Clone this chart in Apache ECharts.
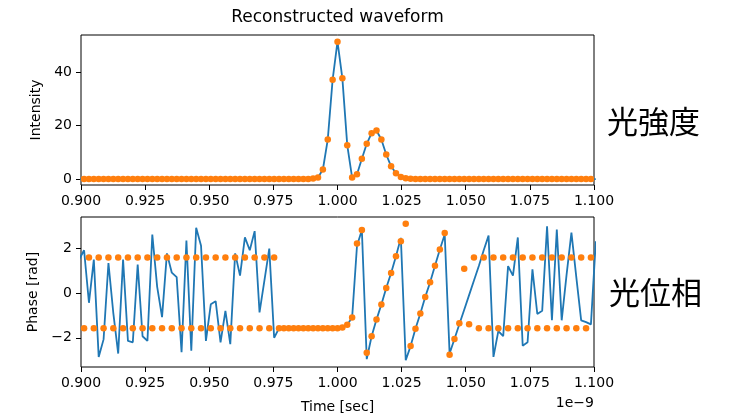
<!DOCTYPE html>
<html>
<head>
<meta charset="utf-8">
<script src="https://cdn.jsdelivr.net/npm/echarts@6/dist/echarts.min.js"></script>
<style>
  html, body { margin: 0; padding: 0; background: #fff; }
  #chart { width: 754px; height: 417px; }
</style>
</head>
<body>
<div id="chart"></div>
<script>
// time grid (units of 1e-9 s), one sample every 1.9 ps
var T_START = 0.8993;
var DT = 0.0019;
var N = 107;
var timeNs = Array.from({ length: N }, function (_, i) { return +(T_START + i * DT).toFixed(4); });

// tick labels
var xTicks = [0.900, 0.925, 0.950, 0.975, 1.000, 1.025, 1.050, 1.075, 1.100];
var intensityTicks = [0, 20, 40];
var phaseTicks = [-2, 0, 2];

// intensity (same samples for line and dots)
var intensity = [
  0, 0, 0, 0, 0, 0, 0, 0, 0, 0, 0, 0, 0, 0, 0, 0, 0, 0, 0, 0,
  0, 0, 0, 0, 0, 0, 0, 0, 0, 0, 0, 0, 0, 0, 0, 0, 0, 0, 0, 0,
  0, 0, 0, 0, 0, 0, 0, 0,
  0.2, 0.6, 3.6, 14.8, 37.2, 51.4, 37.7, 12.7, 0.6, 1.8,
  7.6, 13.2, 17.2, 18.2, 14.8, 9.2, 4.8, 2.2, 0.8, 0.3, 0.1,
  0, 0, 0, 0, 0, 0, 0, 0, 0, 0, 0, 0, 0, 0, 0, 0, 0, 0, 0, 0,
  0, 0, 0, 0, 0, 0, 0, 0, 0, 0, 0, 0, 0, 0, 0, 0, 0, 0
];

// reconstructed phase (blue line)
var phaseLine = [
  1.5, 1.9, -0.44, 1.48, -2.85, -2.07, 1.33, -0.9, -2.7, 1.48,
  -2.14, -2.2, 1.26, -1.93, -2.14, 2.6, 0.27, -1.08, 1.76, 0.9,
  0.7, -2.64, 2.33, -2.57, 2.9, 2.1, -2.14, -0.51, -0.37, -2.2,
  -0.8, -2.28, 1.76, 0.77, 2.47, 1.9, 2.75, -0.87, 0.55, 1.97,
  -2.0, -1.57,
  -1.58, -1.57, -1.57, -1.57, -1.57, -1.57, -1.57, -1.57, -1.57, -1.57, -1.57, -1.56,
  -1.54, -1.42, -1.1, 2.1, 2.8, -2.95, -1.93, -1.19, -0.52, 0.22,
  0.89, 1.63, 2.45, -3.0, -2.37, -1.6, -0.92, -0.18, 0.47, 1.21,
  1.93, 2.6,
  -2.7, -2.05, -1.4, -0.75, -0.1, 0.55, 1.2, 1.9, 2.55,
  -2.85, -1.7, -1.93, 1.19, 0.77, 2.47, -2.35, -2.2, 1.05, -0.94,
  -0.8, 2.97, -1.22, 2.82, -1.22, 0.8, 2.68, 0.7, -1.22, -1.3,
  -1.4, 2.3
];

// sampled phase (orange dots)
var phaseDots = [
  1.571, -1.571, 1.571, -1.571, 1.571, -1.571, 1.571, -1.571, 1.571, -1.571,
  1.571, -1.571, 1.571, -1.571, 1.571, -1.571, 1.571, -1.571, 1.571, -1.571,
  1.571, -1.571, 1.571, -1.571, 1.571, -1.571, 1.571, -1.571, 1.571, -1.571,
  1.571, -1.571, 1.571, -1.571, 1.571, -1.571, 1.571, -1.571, 1.571, -1.571,
  1.571,
  -1.571, -1.571, -1.571, -1.571, -1.571, -1.571, -1.571, -1.571, -1.571, -1.571,
  -1.571, -1.571, -1.571,
  -1.54, -1.42, -1.1, 2.2, 2.8, -2.67, -1.93, -1.19, -0.52, 0.22,
  0.89, 1.63, 2.3, 3.08, -2.37, -1.6, -0.92, -0.18, 0.47, 1.21,
  1.93, 2.67, -2.75, -2.05, -1.35, 1.07, -1.4,
  1.571, -1.571, 1.571, -1.571, 1.571, -1.571, 1.571, -1.571, 1.571, -1.571,
  1.571, -1.571, 1.571, -1.571, 1.571, -1.571, 1.571, -1.571, 1.571, -1.571,
  1.571, -1.571, 1.571, -1.571, 1.571, -1.571
];

function pairs(values) {
  return values.map(function (v, i) { return [timeNs[i], v]; });
}

var FONT = 'DejaVu Sans';
var BLUE = '#1f77b4';
var ORANGE = '#ff7f0e';

function fmtNum(v, digits) {
  return v.toFixed(digits).replace('-', '\u2212');
}

function xAxisFor(gridIndex, name) {
  return {
    type: 'value',
    gridIndex: gridIndex,
    min: 0.9,
    max: 1.1,
    name: name,
    nameLocation: 'middle',
    nameGap: 33,
    nameTextStyle: { fontFamily: FONT, fontSize: 14, color: '#000' },
    axisLine: { show: false, onZero: false },
    axisTick: { show: true, length: 5, inside: false, customValues: xTicks, lineStyle: { color: '#000', width: 1 } },
    axisLabel: {
      customValues: xTicks, margin: 9, fontFamily: FONT, fontSize: 14, color: '#000',
      formatter: function (v) { return fmtNum(v, 3); }
    },
    splitLine: { show: false }
  };
}

function yAxisFor(gridIndex, name, min, max, ticks) {
  return {
    type: 'value',
    gridIndex: gridIndex,
    min: min,
    max: max,
    name: name,
    nameLocation: 'middle',
    nameRotate: 90,
    nameGap: 38,
    nameTextStyle: { fontFamily: FONT, fontSize: 14, color: '#000' },
    axisLine: { show: false, onZero: false },
    axisTick: { show: true, length: 5, customValues: ticks, lineStyle: { color: '#000', width: 1 } },
    axisLabel: {
      customValues: ticks, margin: 9, fontFamily: FONT, fontSize: 14, color: '#000',
      formatter: function (v) { return fmtNum(v, 0); }
    },
    splitLine: { show: false }
  };
}

var myChart = echarts.init(document.getElementById('chart'), null, { renderer: 'canvas' });

var option = {
  animation: false,
  backgroundColor: '#fff',
  grid: [
    { left: 81, top: 35, width: 513, height: 150, show: true, borderColor: '#000', borderWidth: 1, backgroundColor: 'transparent' },
    { left: 81, top: 217, width: 513, height: 150, show: true, borderColor: '#000', borderWidth: 1, backgroundColor: 'transparent' }
  ],
  xAxis: [xAxisFor(0, ''), xAxisFor(1, 'Time [sec]')],
  yAxis: [
    yAxisFor(0, 'Intensity', -2.2, 53.9, intensityTicks),
    yAxisFor(1, 'Phase [rad]', -3.3, 3.38, phaseTicks)
  ],
  series: [
    {
      type: 'line', xAxisIndex: 0, yAxisIndex: 0, data: pairs(intensity),
      showSymbol: false, lineStyle: { color: BLUE, width: 1.8 }, z: 2
    },
    {
      type: 'scatter', xAxisIndex: 0, yAxisIndex: 0, data: pairs(intensity),
      symbolSize: 6.5, itemStyle: { color: ORANGE, opacity: 1 }, z: 3
    },
    {
      type: 'line', xAxisIndex: 1, yAxisIndex: 1, data: pairs(phaseLine),
      showSymbol: false, lineStyle: { color: BLUE, width: 1.8 }, z: 2
    },
    {
      type: 'scatter', xAxisIndex: 1, yAxisIndex: 1, data: pairs(phaseDots),
      symbolSize: 6.5, itemStyle: { color: ORANGE, opacity: 1 }, z: 3
    }
  ],
  graphic: [
    { type: 'text', x: 337.5, y: 18, style: { text: 'Reconstructed waveform', fill: '#000', font: '17px "DejaVu Sans"', textAlign: 'center', textVerticalAlign: 'middle' } },
    { type: 'text', x: 594, y: 403, style: { text: '1e\u22129', fill: '#000', font: '14px "DejaVu Sans"', textAlign: 'right', textVerticalAlign: 'middle' } },
    { type: 'text', x: 607, y: 121, style: { text: '光強度', fill: '#000', font: '31px "Noto Sans CJK JP"', textAlign: 'left', textVerticalAlign: 'middle' } },
    { type: 'text', x: 609, y: 292, style: { text: '光位相', fill: '#000', font: '31px "Noto Sans CJK JP"', textAlign: 'left', textVerticalAlign: 'middle' } }
  ]
};

myChart.setOption(option);
</script>
</body>
</html>
